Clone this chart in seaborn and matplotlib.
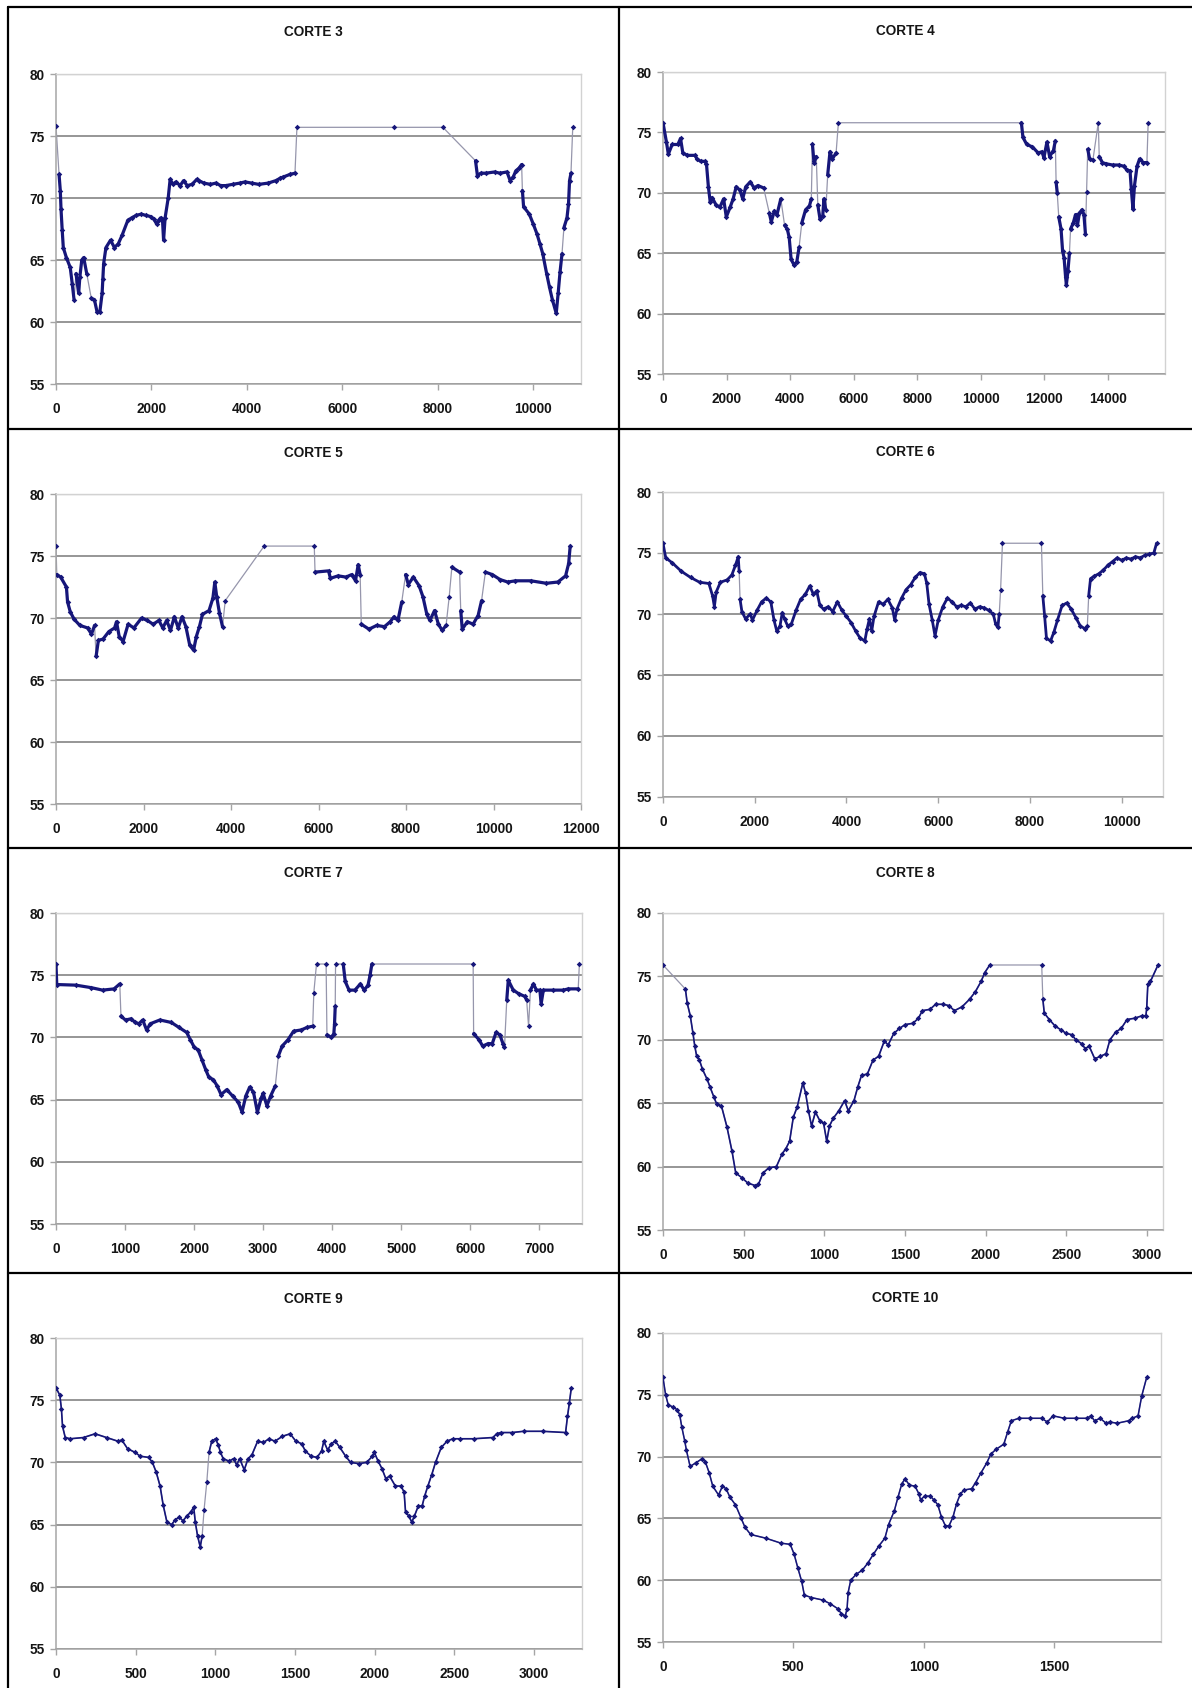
import numpy as np
import pandas as pd
import matplotlib
matplotlib.use("Agg")
import matplotlib.pyplot as plt
import seaborn as sns
from matplotlib.lines import Line2D

# ---------------- data (distance, elevation) ----------------
corte3 = [(0, 75.8), (64, 71.9), (90, 70.6), (105, 69.1), (130, 67.4), (153, 66.0), (217, 65.2), (298, 64.4),
          (340, 63.1), (378, 61.8), (419, 63.9), (475, 62.3), (499, 63.6), (540, 65.0), (580, 65.2), (644, 63.9),
          (740, 61.9), (805, 61.8), (861, 60.8), (918, 60.8), (966, 62.3), (982, 63.5), (998, 64.7), (1046, 66.0),
          (1143, 66.6), (1224, 66.0),
          (1304, 66.3), (1385, 67.0), (1505, 68.2), (1586, 68.4), (1680, 68.6), (1787, 68.7), (1880, 68.6),
          (1988, 68.5), (2050, 68.3), (2109, 67.9), (2150, 68.2), (2190, 68.4), (2230, 68.3), (2254, 66.6),
          (2286, 68.4), (2351, 70.0), (2391, 71.5), (2450, 71.1), (2512, 71.3), (2600, 71.0), (2673, 71.4),
          (2750, 71.0), (2850, 71.1), (2950, 71.5), (2995, 71.4), (3100, 71.2), (3236, 71.1), (3350, 71.2),
          (3450, 71.0), (3558, 71.0), (3700, 71.1), (3850, 71.2), (3961, 71.3), (4100, 71.2), (4250, 71.1),
          (4444, 71.2), (4605, 71.4), (4700, 71.6), (4766, 71.7), (4900, 71.9), (5007, 72.0), (5048, 75.7),
          (7084, 75.7), (8106, 75.7), (8790, 73.0), (8830, 71.8), (8900, 72.0), (9000, 72.0), (9193, 72.1),
          (9300, 72.0), (9450, 72.1), (9515, 71.4), (9580, 71.7), (9636, 72.2), (9700, 72.4), (9756, 72.7),
          (9772, 70.6), (9797, 69.3), (9917, 68.7), (10000, 67.9), (10078, 67.1), (10140, 66.3), (10199, 65.5),
          (10280, 63.9), (10340, 62.8), (10400, 61.8), (10481, 60.7), (10521, 62.3), (10560, 64.0), (10602, 65.5),
          (10642, 67.6), (10706, 68.4), (10738, 69.5), (10760, 71.4), (10790, 72.0), (10827, 75.7)]

corte4 = [(0, 75.8), (108, 74.2), (168, 73.2), (288, 74.0), (468, 74.0), (552, 74.5), (624, 73.3), (768, 73.1),
          (1008, 73.1), (1068, 72.8), (1188, 72.6), (1308, 72.6), (1368, 72.4), (1428, 70.5), (1488, 69.2),
          (1548, 69.6), (1668, 69.0), (1788, 68.8), (1908, 69.5), (1992, 68.0), (2112, 68.8), (2208, 69.5),
          (2304, 70.5), (2424, 70.2), (2508, 69.5), (2604, 70.5), (2748, 70.9), (2868, 70.4), (2988, 70.6),
          (3168, 70.4), (3348, 68.3), (3408, 67.6), (3504, 68.5), (3588, 68.2), (3708, 69.5), (3828, 67.3),
          (3912, 67.0), (3972, 66.3), (4032, 64.5), (4128, 64.0), (4212, 64.3), (4284, 65.5), (4368, 67.5),
          (4488, 68.6), (4608, 68.9), (4668, 69.5), (4704, 74.0), (4752, 72.5), (4824, 73.0), (4872, 69.0),
          (4944, 67.8), (5028, 68.1), (5064, 69.5), (5124, 68.6), (5184, 71.5), (5256, 73.4), (5328, 72.8),
          (5448, 73.3), (5520, 75.8), (11280, 75.8), (11328, 74.6), (11448, 74.0), (11628, 73.8), (11808, 73.3),
          (11928, 73.4), (11988, 72.9), (12084, 74.2), (12168, 73.0), (12288, 73.5), (12348, 74.3), (12372, 70.9),
          (12408, 70.0), (12456, 68.0), (12528, 67.0), (12576, 65.2), (12624, 64.6), (12672, 63.0), (12696, 62.4),
          (12744, 63.5), (12792, 65.0), (12828, 67.0), (12912, 67.5), (12984, 68.2), (13044, 67.3), (13104, 68.3),
          (13188, 68.6), (13248, 68.2), (13296, 66.6), (13332, 70.1), (13368, 73.6), (13428, 72.8), (13530, 72.7),
          (13700, 75.8), (13730, 73.0), (13830, 72.5), (13950, 72.4), (14150, 72.3), (14350, 72.3), (14500, 72.2),
          (14600, 71.9), (14700, 71.8), (14740, 70.3), (14790, 68.7), (14840, 70.6), (14920, 72.2), (15000, 72.8),
          (15120, 72.5), (15230, 72.5), (15270, 75.8)]

corte5 = [(0, 75.8), (18, 73.5), (106, 73.3), (238, 72.5), (264, 71.3), (326, 70.5), (414, 69.9), (546, 69.4),
          (722, 69.2), (811, 68.7), (881, 69.4), (916, 66.9), (969, 68.2), (1075, 68.3), (1207, 68.9), (1339, 69.2),
          (1383, 69.7), (1445, 68.5), (1533, 68.1), (1648, 69.5), (1780, 69.2), (1956, 70.0), (2088, 69.8),
          (2220, 69.5), (2352, 69.8), (2440, 69.2), (2529, 69.8), (2617, 69.0), (2705, 70.1), (2793, 69.2),
          (2881, 70.1), (2969, 69.3), (3057, 67.8), (3145, 67.4), (3207, 68.5), (3278, 69.3), (3348, 70.3),
          (3498, 70.6), (3586, 71.6), (3630, 72.9), (3674, 71.7), (3736, 70.4), (3806, 69.3), (3868, 71.4),
          (4758, 75.8), (5903, 75.8), (5921, 73.7), (6229, 73.8), (6273, 73.2), (6449, 73.4), (6626, 73.3),
          (6758, 73.5), (6846, 73.0), (6907, 74.3), (6952, 73.5), (6978, 69.5), (7154, 69.1), (7330, 69.4),
          (7507, 69.3), (7639, 69.7), (7727, 70.1), (7815, 69.8), (7903, 71.3), (7991, 73.5), (8053, 72.7),
          (8167, 73.3), (8300, 72.6), (8388, 71.7), (8476, 70.3), (8546, 69.8), (8652, 70.6), (8740, 69.5),
          (8828, 69.0), (8916, 69.4), (8987, 71.7), (9048, 74.1), (9225, 73.7), (9251, 70.6), (9286, 69.1),
          (9401, 69.7), (9533, 69.5), (9648, 70.2), (9727, 71.4), (9815, 73.7), (9974, 73.5), (10150, 73.1),
          (10326, 72.9), (10502, 73.0), (10855, 73.0), (11207, 72.8), (11471, 72.9), (11648, 73.4), (11718, 74.4),
          (11753, 75.8)]

corte6 = [(0, 75.8), (60, 74.6), (200, 74.2), (400, 73.5), (600, 73.0), (800, 72.6), (1000, 72.5), (1080, 71.5),
          (1120, 70.6), (1160, 71.8), (1250, 72.6), (1400, 72.8), (1500, 73.2), (1580, 74.0), (1640, 74.7),
          (1660, 73.5), (1680, 71.2), (1720, 70.2), (1800, 69.6), (1900, 70.0), (1950, 69.5), (2050, 70.3),
          (2150, 71.0), (2250, 71.3), (2350, 71.0), (2420, 69.5), (2480, 68.6), (2550, 69.0), (2600, 70.1),
          (2650, 69.6), (2720, 69.0), (2800, 69.2), (2900, 70.3), (3000, 71.2), (3100, 71.6), (3200, 72.3),
          (3280, 71.6), (3350, 71.9), (3420, 70.7), (3500, 70.4), (3600, 70.6), (3700, 70.2), (3800, 71.0),
          (3900, 70.3), (4000, 69.8), (4100, 69.3), (4200, 68.6), (4300, 68.0), (4400, 67.8), (4450, 68.8),
          (4500, 69.6), (4550, 68.6), (4600, 69.8), (4700, 71.0), (4800, 70.8), (4900, 71.2), (5000, 70.5),
          (5050, 69.5), (5100, 70.4), (5200, 71.3), (5300, 72.0), (5400, 72.4), (5500, 73.0), (5600, 73.4),
          (5700, 73.3), (5750, 72.5), (5800, 70.8), (5870, 69.5), (5930, 68.2), (6000, 69.5), (6100, 70.6),
          (6200, 71.3), (6300, 71.0), (6400, 70.6), (6500, 70.7), (6600, 70.6), (6700, 70.9), (6800, 70.4),
          (6900, 70.6), (7000, 70.5), (7100, 70.3), (7200, 70.0), (7250, 69.2), (7300, 68.9), (7330, 70.0),
          (7360, 72.0), (7400, 75.8), (8250, 75.8), (8280, 71.5), (8320, 69.8), (8360, 68.0), (8450, 67.8),
          (8520, 68.5), (8600, 69.5), (8700, 70.7), (8800, 70.9), (8900, 70.4), (9000, 69.7), (9100, 69.0),
          (9200, 68.8), (9250, 69.0), (9280, 71.5), (9320, 72.9), (9400, 73.1), (9500, 73.3), (9600, 73.6),
          (9700, 74.0), (9800, 74.3), (9900, 74.6), (10000, 74.4), (10100, 74.6), (10200, 74.5), (10300, 74.7),
          (10400, 74.6), (10500, 74.8), (10600, 74.9), (10700, 75.0), (10760, 75.8)]

corte7 = [(0, 75.9), (11, 74.25), (288, 74.2), (509, 74.0), (675, 73.8), (841, 73.9), (924, 74.3), (941, 71.7),
          (1007, 71.4), (1090, 71.5), (1146, 71.2), (1201, 71.1), (1256, 71.4), (1312, 70.6), (1367, 71.1),
          (1505, 71.4), (1671, 71.2), (1782, 70.8), (1893, 70.4), (1948, 69.8), (2003, 69.2), (2059, 69.0),
          (2114, 68.2), (2169, 67.4), (2214, 66.8), (2280, 66.6), (2335, 66.1), (2391, 65.4), (2474, 65.8),
          (2557, 65.3), (2640, 64.8), (2695, 64.0), (2750, 65.3), (2806, 66.0), (2861, 65.6), (2917, 64.0),
          (2972, 65.1), (3000, 65.5), (3055, 64.5), (3110, 65.3), (3177, 66.1), (3221, 68.5), (3276, 69.3),
          (3359, 69.8), (3442, 70.5), (3553, 70.6), (3636, 70.8), (3719, 70.9), (3735, 73.6), (3774, 75.9),
          (3913, 75.9), (3925, 70.2), (3990, 70.0), (4025, 70.3), (4035, 71.1), (4045, 72.5), (4050, 75.9),
          (4161, 75.9), (4190, 74.5), (4245, 73.8), (4330, 73.8), (4410, 74.3), (4465, 73.8), (4520, 74.2),
          (4550, 75.0), (4576, 75.9), (6043, 75.9), (6050, 70.3), (6130, 69.8), (6181, 69.3), (6260, 69.5),
          (6320, 69.5), (6375, 70.4), (6430, 70.2), (6475, 69.5), (6497, 69.2), (6530, 73.0), (6552, 74.6),
          (6624, 73.8), (6707, 73.5), (6790, 73.3), (6818, 73.0), (6846, 70.9), (6873, 73.8), (6917, 74.3),
          (6960, 73.8), (7010, 73.8), (7028, 72.7), (7060, 73.8), (7200, 73.8), (7350, 73.8), (7420, 73.9),
          (7565, 73.9), (7582, 75.9)]

corte8 = [(0, 75.9), (139, 74.0), (150, 72.9), (169, 71.9), (186, 70.5), (197, 69.5), (209, 68.7), (226, 68.4),
          (244, 67.7), (273, 66.9), (291, 66.3), (315, 65.5), (334, 64.9), (362, 64.8), (397, 63.1), (428, 61.2),
          (451, 59.5), (491, 59.1), (526, 58.7), (573, 58.5), (592, 58.6), (620, 59.5), (656, 59.9), (703, 60.0),
          (738, 61.0), (761, 61.4), (785, 62.0), (808, 63.9), (832, 64.7), (867, 66.6), (884, 65.8), (902, 64.4),
          (921, 63.2), (945, 64.3), (973, 63.6), (996, 63.4), (1015, 62.0), (1032, 63.2), (1055, 63.8),
          (1090, 64.4), (1126, 65.2), (1149, 64.4), (1184, 65.2), (1208, 66.3), (1231, 67.2), (1267, 67.3),
          (1302, 68.4), (1337, 68.7), (1372, 69.9), (1396, 69.6), (1431, 70.5), (1466, 70.9), (1502, 71.2),
          (1549, 71.3), (1584, 71.7), (1608, 72.3), (1655, 72.4), (1690, 72.8), (1737, 72.8), (1772, 72.7),
          (1807, 72.3), (1854, 72.6), (1901, 73.2), (1937, 73.8), (1972, 74.6), (1995, 75.3), (2026, 75.9),
          (2348, 75.9), (2355, 73.2), (2364, 72.1), (2395, 71.6), (2430, 71.1), (2465, 70.8), (2501, 70.5),
          (2536, 70.4), (2559, 70.0), (2595, 69.7), (2618, 69.3), (2642, 69.5), (2677, 68.5), (2712, 68.7),
          (2747, 68.9), (2771, 70.0), (2806, 70.6), (2841, 70.9), (2877, 71.6), (2924, 71.7), (2971, 71.9),
          (2994, 71.9), (2999, 72.5), (3006, 74.4), (3022, 74.6), (3069, 75.9)]

corte9 = [(0, 76.0), (24, 75.4), (34, 74.3), (41, 72.9), (58, 72.0), (89, 71.9), (173, 72.0), (245, 72.3),
          (317, 72.0), (389, 71.7), (413, 71.8), (449, 71.1), (497, 70.8), (528, 70.5), (581, 70.4), (605, 70.0),
          (629, 69.2), (653, 68.1), (672, 66.6), (696, 65.2), (725, 65.0), (749, 65.4), (773, 65.6), (797, 65.3),
          (821, 65.7), (845, 66.0), (864, 66.4), (874, 65.2), (888, 64.1), (905, 63.2), (917, 64.1), (929, 66.2),
          (946, 68.4), (960, 70.8), (977, 71.7), (1001, 71.9), (1018, 71.4), (1032, 70.8), (1049, 70.3),
          (1085, 70.1), (1114, 70.3), (1133, 69.8), (1152, 70.3), (1181, 69.4), (1205, 70.3), (1229, 70.6),
          (1265, 71.7), (1301, 71.6), (1337, 71.9), (1373, 71.7), (1421, 72.1), (1469, 72.3), (1505, 71.7),
          (1541, 71.5), (1565, 70.9), (1601, 70.5), (1637, 70.4), (1666, 70.9), (1680, 71.7), (1704, 71.0),
          (1728, 71.5), (1752, 71.7), (1781, 71.2), (1817, 70.5), (1848, 70.0), (1901, 69.9), (1949, 70.0),
          (1985, 70.5), (1997, 70.8), (2021, 70.1), (2045, 69.5), (2069, 68.7), (2093, 68.9), (2129, 68.1),
          (2165, 68.1), (2184, 67.6), (2193, 66.0), (2213, 65.7), (2232, 65.2), (2249, 65.7), (2273, 66.5),
          (2297, 66.5), (2313, 67.3), (2333, 68.1), (2357, 69.0), (2381, 70.0), (2417, 71.2), (2453, 71.7),
          (2489, 71.9), (2537, 71.9), (2621, 71.9), (2741, 72.0), (2765, 72.3), (2789, 72.4), (2861, 72.4),
          (2933, 72.5), (3053, 72.5), (3197, 72.4), (3209, 73.7), (3221, 74.8), (3233, 76.0)]

corte10 = [(0, 76.4), (10, 75.0), (20, 74.2), (39, 74.0), (54, 73.8), (64, 73.4), (72, 72.4), (83, 71.3),
           (90, 70.5), (104, 69.2), (126, 69.5), (148, 69.8), (162, 69.6), (177, 68.7), (191, 67.6), (213, 66.9),
           (228, 67.6), (242, 67.4), (257, 66.7), (278, 66.1), (300, 65.0), (314, 64.3), (336, 63.7), (394, 63.4),
           (452, 63.0), (488, 62.9), (503, 62.1), (517, 61.0), (532, 59.9), (542, 58.8), (568, 58.6), (612, 58.4),
           (641, 58.1), (670, 57.7), (684, 57.3), (699, 57.1), (706, 57.7), (710, 59.0), (720, 60.0), (742, 60.5),
           (764, 60.8), (786, 61.4), (807, 62.1), (829, 62.8), (851, 63.4), (865, 64.5), (887, 65.6), (901, 66.7),
           (916, 67.8), (928, 68.2), (945, 67.7), (967, 67.6), (981, 67.0), (988, 66.5), (1003, 66.8), (1025, 66.8),
           (1039, 66.5), (1054, 66.1), (1068, 65.1), (1083, 64.4), (1097, 64.4), (1112, 65.1), (1126, 66.2),
           (1141, 67.0), (1155, 67.3), (1184, 67.4), (1199, 67.9), (1220, 68.7), (1242, 69.5), (1257, 70.2),
           (1278, 70.6), (1307, 71.0), (1322, 72.0), (1336, 72.9), (1365, 73.1), (1409, 73.1), (1452, 73.1),
           (1474, 72.8), (1496, 73.3), (1539, 73.1), (1583, 73.1), (1626, 73.1), (1641, 73.3), (1655, 72.9),
           (1677, 73.1), (1699, 72.7), (1713, 72.8), (1742, 72.7), (1786, 72.9), (1800, 73.1), (1822, 73.3),
           (1836, 74.9), (1855, 76.4)]

titles = ["CORTE 3", "CORTE 4", "CORTE 5", "CORTE 6", "CORTE 7", "CORTE 8", "CORTE 9", "CORTE 10"]
series = [corte3, corte4, corte5, corte6, corte7, corte8, corte9, corte10]
x_max = [11000, 15800, 12000, 10900, 7620, 3100, 3300, 1910]
x_step = [2000, 2000, 2000, 2000, 1000, 500, 500, 500]
y_ticks = [55, 60, 65, 70, 75, 80]

# ---------------- layout (pixels in a 1192 x 1688 canvas) ----------------
W, H = 1192, 1688
boxes = [(56, 74, 581, 384), (663, 72, 1165, 374),
         (56, 494, 581, 804), (663, 492, 1163, 797),
         (56, 913, 582, 1224), (663, 913, 1163, 1230),
         (56, 1338, 582, 1649), (663, 1333, 1161, 1642)]
title_pos = [(313, 32), (905, 31), (313, 453), (905, 452),
             (313, 873), (905, 873), (313, 1299), (905, 1298)]
dense_lw = [2.3, 2.3, 2.3, 2.0, 2.3, 1.2, 1.2, 1.1]

sns.set_theme(style="white")
plt.rcParams['font.family'] = ['Liberation Sans', 'DejaVu Sans']
plt.rcParams['font.weight'] = 'bold'

NAVY = "#16167a"
THIN = "#9696ac"
CAP = 75.5   # values at/above this level are the flat "cap" segments drawn thin

fig = plt.figure(figsize=(W / 100, H / 100), dpi=100)
fig.patch.set_facecolor("white")

for i, (pts, title) in enumerate(zip(series, titles)):
    l, t, r, b = boxes[i]
    ax = fig.add_axes([l / W, 1 - b / H, (r - l) / W, (b - t) / H])
    xs = np.array([p[0] for p in pts], dtype=float)
    ys = np.array([p[1] for p in pts], dtype=float)
    df = pd.DataFrame({"x": xs, "y": ys})

    # decide which segments look like a dense navy band and which are thin connecting lines
    sx = (r - l) / x_max[i]
    sy = (b - t) / 25.0
    dxp = np.diff(xs) * sx
    dy = np.abs(np.diff(ys))
    seglen = np.hypot(dxp, dy * sy)
    capseg = np.minimum(ys[:-1], ys[1:]) >= CAP
    thin = (dxp > 40) | (dy >= 2.0) | capseg | (seglen > 30)
    run = np.zeros(len(xs), dtype=int)
    rid = 0
    for k in range(1, len(xs)):
        if thin[k - 1]:
            rid += 1
        run[k] = rid
    df["run"] = run
    counts = df["run"].value_counts()
    dense = df[df["run"].map(counts) > 1]

    sns.lineplot(data=df, x="x", y="y", sort=False, estimator=None, color=THIN,
                 lw=0.9, ax=ax, zorder=2)
    if len(dense):
        sns.lineplot(data=dense, x="x", y="y", units="run", sort=False, estimator=None,
                     color=NAVY, lw=dense_lw[i], ax=ax, legend=False, zorder=3)
    sns.scatterplot(data=df, x="x", y="y", marker="D", s=8, color=NAVY, linewidth=0,
                    ax=ax, zorder=4, legend=False)

    ax.set_xlim(0, x_max[i])
    ax.set_ylim(55, 80)
    ax.set_yticks(y_ticks)
    ax.set_xticks(np.arange(0, x_max[i] + 1, x_step[i]))
    ax.set_xlabel("")
    ax.set_ylabel("")
    ax.yaxis.grid(True, color="#969696", lw=1.4, zorder=0)
    ax.xaxis.grid(False)
    ax.set_axisbelow(True)
    gl = ax.get_ygridlines()
    gl[-1].set_color("#d2d2d2")
    gl[-1].set_linewidth(1.0)
    for side in ["left", "bottom"]:
        ax.spines[side].set_color("#a5a5a5")
        ax.spines[side].set_linewidth(1.1)
    for side in ["top", "right"]:
        ax.spines[side].set_color("#d2d2d2")
        ax.spines[side].set_linewidth(1.0)
    ax.tick_params(axis="both", which="major", bottom=True, left=True, length=4, width=1,
                   color="#a5a5a5", labelsize=9.8, labelcolor="#151515", direction="out")
    ax.tick_params(axis="x", pad=9)
    ax.tick_params(axis="y", pad=4)
    for lbl in ax.get_xticklabels() + ax.get_yticklabels():
        lbl.set_fontweight("bold")

    tx, ty = title_pos[i]
    fig.text(tx / W, 1 - ty / H, title, ha="center", va="center", fontsize=9.8,
             fontweight="bold", color="#151515")

# table borders
def hline(y, x0=8, x1=W):
    fig.add_artist(Line2D([x0 / W, x1 / W], [1 - y / H, 1 - y / H], color="black", lw=1.6))

def vline(x, y0=7, y1=H):
    fig.add_artist(Line2D([x / W, x / W], [1 - y0 / H, 1 - y1 / H], color="black", lw=1.6))

for yy in [7, 429, 848, 1273]:
    hline(yy)
for xx in [8, 619]:
    vline(xx)

fig.savefig("out.png", dpi=100, facecolor="white")
